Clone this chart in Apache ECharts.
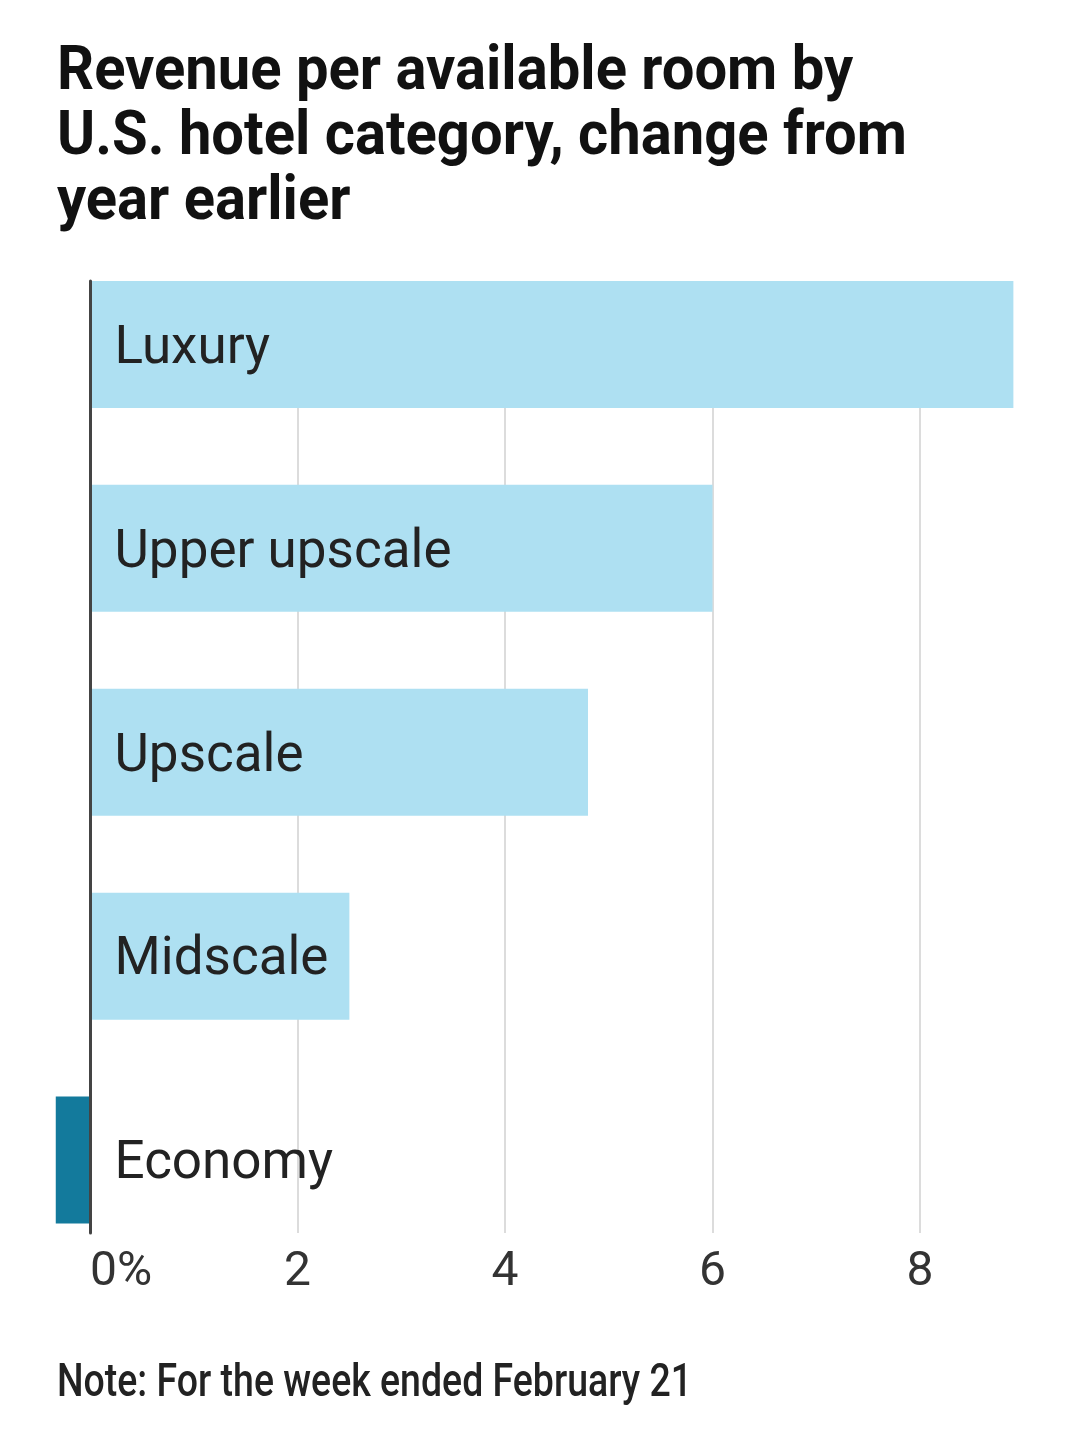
<!DOCTYPE html>
<html><head><meta charset="utf-8">
<script src="https://cdn.jsdelivr.net/npm/echarts@6/dist/echarts.min.js"></script>
<style>html,body{margin:0;padding:0;background:#fff}#c{width:1080px;height:1430px}</style>
</head><body><div id="c"></div>
<script>
const titleLines = ['Revenue per available room by', 'U.S. hotel category, change from', 'year earlier'];
const noteText = 'Note: For the week ended February 21';
const categories = ['Luxury', 'Upper upscale', 'Upscale', 'Midscale', 'Economy'];
const values = [8.9, 6.0, 4.8, 2.5, -0.33];
const tickValues = [0, 2, 4, 6, 8];
const tickLabels = ['0%', '2', '4', '6', '8'];

const LIGHT = '#AEE0F2', DARK = '#137A9C';

const ctx = document.createElement('canvas').getContext('2d');
function measure(text, font) { ctx.font = font; return ctx.measureText(text).width; }

const titleFont = 'bold 62px Roboto';
const titleScale = 850 / measure(titleLines[1], titleFont);
const noteFont = '500 47px Roboto';
const noteScale = 635 / measure(noteText, noteFont);

const graphics = titleLines.map((t, i) => ({
  type: 'text', left: 57, top: 42 + i * 65, scaleX: titleScale, originX: 0,
  style: { text: t, font: titleFont, fill: '#111' }
}));
graphics.push({
  type: 'text', left: 57, top: 1361, scaleX: noteScale,
  style: { text: noteText, font: noteFont, fill: '#222' }
});

const chart = echarts.init(document.getElementById('c'), null, { renderer: 'canvas' });
chart.setOption({
  animation: false,
  backgroundColor: '#fff',
  graphic: graphics,
  grid: [
    { left: 48.5, right: 56.25, top: 242.5, bottom: 168 },
    { left: 48.5, right: 56.25, top: 281, bottom: 197 },
    { left: 48.5, right: 56.25, top: 247.5, bottom: 163 }
  ],
  xAxis: [
    { gridIndex: 0, type: 'value', min: -0.4, max: 9, show: false },
    { gridIndex: 1, type: 'value', min: -0.4, max: 9,
      axisLine: { show: false },
      axisTick: { show: false, customValues: tickValues },
      splitLine: { show: true, lineStyle: { color: '#dcdcdc', width: 2 } },
      axisLabel: { customValues: tickValues, margin: 16, fontFamily: 'Roboto', fontSize: 48, color: '#333',
        alignMinLabel: 'left',
        formatter: v => tickLabels[tickValues.indexOf(v)] } },
    { gridIndex: 2, type: 'value', min: -0.4, max: 9, show: false }
  ],
  yAxis: [
    { gridIndex: 0, type: 'category', data: categories, inverse: true, show: false },
    { gridIndex: 1, type: 'value', min: 0, max: 1, z: 5,
      axisLine: { show: true, onZero: true, lineStyle: { color: '#444', width: 3 } },
      axisTick: { show: false }, axisLabel: { show: false }, splitLine: { show: false } },
    { gridIndex: 2, type: 'category', data: categories, inverse: true, z: 6,
      axisLine: { show: false, onZero: false }, axisTick: { show: false }, splitLine: { show: false },
      axisLabel: { inside: true, margin: 66, fontFamily: 'Roboto', fontSize: 53, color: '#222' } }
  ],
  series: [{
    type: 'bar', xAxisIndex: 0, yAxisIndex: 0, barWidth: 127,
    data: values.map(v => ({ value: v, itemStyle: { color: v < 0 ? DARK : LIGHT } }))
  }]
});
</script></body></html>
